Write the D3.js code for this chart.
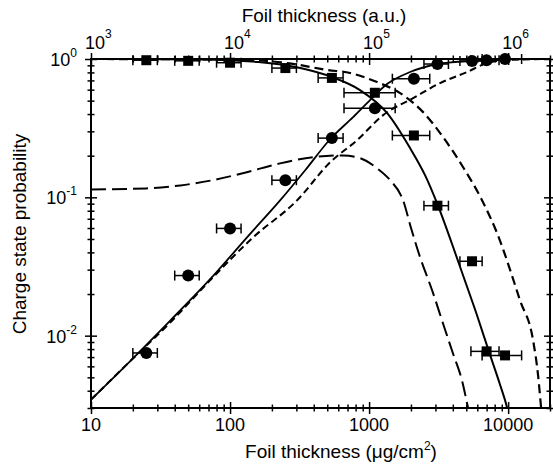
<!DOCTYPE html>
<html>
<head>
<meta charset="utf-8">
<script src="https://cdn.jsdelivr.net/npm/d3@7"></script>
<style>
body { margin: 0; background: #fff; }
text { font-family: "Liberation Sans", Arial, Helvetica, sans-serif; fill: #000; }
</style>
</head>
<body>
<div id="chart"></div>
<script>
// measured points, thickness in ug/cm2
var thickness    = [25, 50, 100, 250, 540, 1100, 2100, 3100, 5500, 7000, 9500];
var thicknessErr = [5, 10, 20, 50, 110, 440, 630, 620, 1000, 1600, 3000];
var squareProb   = [0.98, 0.97, 0.94, 0.86, 0.73, 0.57, 0.28, 0.087, 0.0345, 0.0077, 0.0072];
var circleProb   = [0.0075, 0.0272, 0.0596, 0.133, 0.268, 0.44, 0.72, 0.92, 0.967, 0.98, 1.0];

// model curves
var solidFallX = [10, 60, 160, 320, 540, 860, 1350, 1970, 2530, 3130, 3950, 4820, 5980, 7300, 8760, 9840, 10500];
var solidFallY = [1, 0.992, 0.951, 0.861, 0.741, 0.596, 0.406, 0.227, 0.144, 0.087, 0.046, 0.026, 0.014, 0.0076, 0.0044, 0.003, 0.0022];
var solidRiseX = [10, 19, 37, 75, 132, 229, 347, 524, 767, 1016, 1346, 1972, 3133, 5329, 9675, 20000];
var solidRiseY = [0.00345, 0.0065, 0.0128, 0.0268, 0.0512, 0.095, 0.157, 0.263, 0.38, 0.505, 0.659, 0.805, 0.92, 0.967, 0.995, 1.0];
var dashRiseX = [10, 19, 37, 75, 146, 303, 524, 820, 1262, 2073, 3243, 5070, 7063, 9835, 20000];
var dashRiseY = [0.00345, 0.0065, 0.0124, 0.0263, 0.0512, 0.095, 0.179, 0.259, 0.393, 0.522, 0.67, 0.805, 0.935, 0.983, 1.0];
var dashFallX = [10, 100, 257, 507, 730, 1142, 1671, 2445, 3406, 4745, 6501, 8337, 12200, 15130, 16440, 17270, 18000];
var dashFallY = [1, 0.992, 0.935, 0.832, 0.792, 0.681, 0.567, 0.413, 0.272, 0.165, 0.095, 0.0549, 0.0179, 0.0092, 0.0051, 0.003, 0.002];
var humpX = [10, 25, 44, 75, 132, 229, 396, 650, 861, 1142, 1416, 1757, 2005, 2328, 2838, 3406, 4018, 4667, 5152, 5500];
var humpY = [0.114, 0.116, 0.122, 0.133, 0.152, 0.176, 0.195, 0.201, 0.192, 0.162, 0.133, 0.095, 0.0597, 0.0368, 0.0213, 0.0122, 0.0074, 0.0047, 0.003, 0.0022];

// axes
var xMajor = [10, 100, 1000, 10000];
var xLabels = ["10", "100", "1000", "10000"];
var topPowers = ["3", "4", "5", "6"];
var yMajor = [1, 0.1, 0.01];
var yPowers = ["0", "-1", "-2"];

var width = 553, height = 466;
var pLeft = 91, pRight = 550, pTop = 59, pBottom = 408;

var svg = d3.select("#chart").append("svg")
    .attr("width", width)
    .attr("height", height);

var x = d3.scaleLog().domain([10, 20000]).range([pLeft, pRight]);
var y = d3.scaleLog().domain([0.003, 1]).range([pBottom, pTop]);

var xMinor = [], yMinor = [];
[10, 100, 1000, 10000].forEach(function(d) {
  for (var k = 2; k <= 9; k++) if (d * k <= 20000) xMinor.push(d * k);
});
[0.001, 0.01, 0.1].forEach(function(d) {
  for (var k = 2; k <= 9; k++) if (d * k >= 0.003) yMinor.push(d * k);
});

svg.append("clipPath").attr("id", "plot")
  .append("rect")
    .attr("x", pLeft).attr("y", pTop)
    .attr("width", pRight - pLeft).attr("height", pBottom - pTop);

var line = d3.line()
    .x(function(d) { return x(d[0]); })
    .y(function(d) { return y(d[1]); })
    .curve(d3.curveMonotoneX);

var curves = [
  {xs: solidFallX, ys: solidFallY, dash: null, w: 2},
  {xs: solidRiseX, ys: solidRiseY, dash: null, w: 1.8},
  {xs: dashRiseX, ys: dashRiseY, dash: "7,4", w: 2},
  {xs: dashFallX, ys: dashFallY, dash: "9,5", w: 2.2},
  {xs: humpX, ys: humpY, dash: "15,6", w: 2}
];

var plot = svg.append("g").attr("clip-path", "url(#plot)");

curves.forEach(function(c) {
  plot.append("path")
    .datum(d3.zip(c.xs, c.ys))
    .attr("d", line)
    .attr("fill", "none")
    .attr("stroke", "#000")
    .attr("stroke-width", c.w)
    .attr("stroke-dasharray", c.dash);
});

function errorBars(vals) {
  var g = svg.append("g").attr("stroke", "#000").attr("stroke-width", 1.5);
  thickness.forEach(function(t, i) {
    var yy = y(vals[i]);
    var x0 = x(t - thicknessErr[i]), x1 = x(t + thicknessErr[i]);
    g.append("line").attr("x1", x0).attr("x2", x1).attr("y1", yy).attr("y2", yy);
    g.append("line").attr("x1", x0).attr("x2", x0).attr("y1", yy - 5).attr("y2", yy + 5);
    g.append("line").attr("x1", x1).attr("x2", x1).attr("y1", yy - 5).attr("y2", yy + 5);
  });
}
errorBars(squareProb);
errorBars(circleProb);

svg.append("g").selectAll("rect")
  .data(thickness)
  .enter().append("rect")
    .attr("x", function(d) { return x(d) - 5; })
    .attr("y", function(d, i) { return y(squareProb[i]) - 5; })
    .attr("width", 10).attr("height", 10)
    .attr("fill", "#000");

svg.append("g").selectAll("circle")
  .data(thickness)
  .enter().append("circle")
    .attr("cx", function(d) { return x(d); })
    .attr("cy", function(d, i) { return y(circleProb[i]); })
    .attr("r", 6)
    .attr("fill", "#000");

// frame
svg.append("rect")
  .attr("x", pLeft).attr("y", pTop)
  .attr("width", pRight - pLeft).attr("height", pBottom - pTop)
  .attr("fill", "none").attr("stroke", "#000").attr("stroke-width", 2);

// ticks cross the frame lines
function crossTicks(scale, values, half, horizontal, pos) {
  var pair = horizontal ? [d3.axisTop, d3.axisBottom] : [d3.axisLeft, d3.axisRight];
  pair.forEach(function(make) {
    var g = svg.append("g")
      .attr("transform", horizontal ? "translate(0," + pos + ")" : "translate(" + pos + ",0)")
      .call(make(scale).tickValues(values).tickSize(half).tickFormat(""));
    g.select(".domain").remove();
    g.selectAll("line").attr("stroke", "#000").attr("stroke-width", 1.5);
  });
}
[pBottom, pTop].forEach(function(p) {
  crossTicks(x, xMajor, 6, true, p);
  crossTicks(x, xMinor, 3.5, true, p);
});
[pLeft, pRight].forEach(function(p) {
  crossTicks(y, yMajor, 6, false, p);
  crossTicks(y, yMinor, 3.5, false, p);
});

// tick labels
svg.append("g").selectAll("text")
  .data(xMajor)
  .enter().append("text")
    .attr("x", function(d) { return x(d); })
    .attr("y", 431)
    .attr("text-anchor", "middle")
    .style("font-size", "18px")
    .text(function(d, i) { return xLabels[i]; });

var topLab = svg.append("g").selectAll("text")
  .data(xMajor)
  .enter().append("text")
    .attr("x", function(d) { return x(d) - 6; })
    .attr("y", 49)
    .style("font-size", "18px");
topLab.append("tspan").text("10");
topLab.append("tspan").attr("dy", -11).style("font-size", "12px")
  .text(function(d, i) { return topPowers[i]; });

var leftLab = svg.append("g").selectAll("text")
  .data(yMajor)
  .enter().append("text")
    .attr("x", 77)
    .attr("y", function(d) { return y(d) + 7; })
    .attr("text-anchor", "end")
    .style("font-size", "18px");
leftLab.append("tspan").text("10");
leftLab.append("tspan").attr("dy", -9).style("font-size", "12px")
  .text(function(d, i) { return yPowers[i]; });

// titles
svg.append("text")
  .attr("x", 324).attr("y", 22)
  .attr("text-anchor", "middle")
  .style("font-size", "19px")
  .text("Foil thickness (a.u.)");

var bt = svg.append("text")
  .attr("x", 341).attr("y", 458)
  .attr("text-anchor", "middle")
  .style("font-size", "19px");
bt.append("tspan").text("Foil thickness (μg/cm");
bt.append("tspan").attr("dy", -8).style("font-size", "12px").text("2");
bt.append("tspan").attr("dy", 8).text(")");

svg.append("text")
  .attr("transform", "translate(26,234) rotate(-90)")
  .attr("text-anchor", "middle")
  .style("font-size", "19px")
  .text("Charge state probability");
</script>
</body>
</html>
